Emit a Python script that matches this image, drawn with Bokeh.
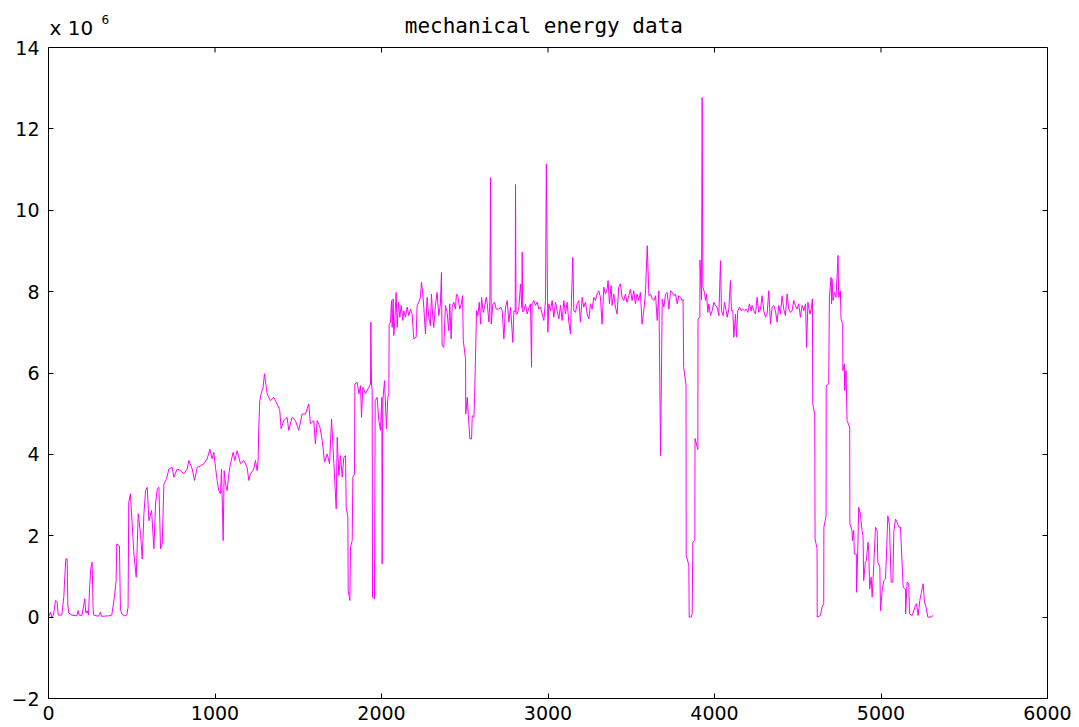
from bokeh.plotting import figure
from bokeh.models import Range1d, FixedTicker, LinearAxis, Span
from bokeh.core.properties import value
from bokeh.embed import file_html
from bokeh.resources import INLINE

# sample index (x) and mechanical energy in units of 1e6 (y)
sample_index = [
    0, 12, 20, 30, 42, 52, 58, 80, 92, 98, 104, 112, 116, 122, 140, 170, 178, 184, 200, 212,
    218, 224, 232, 240, 248, 254, 262, 268, 272, 300, 312, 318, 360, 380, 396, 406, 410, 426, 432, 440,
    455, 470, 478,
    482, 492, 513, 527, 539, 553, 563, 573, 583, 593, 603, 619, 633, 643, 653, 663, 673, 683, 693, 709,
    723, 743, 753, 773, 793, 813, 833, 843, 863, 877, 893, 913, 933, 953, 969, 983, 993, 1003, 1013, 1023,
    1033, 1039, 1049, 1055, 1063, 1073, 1083, 1093, 1109, 1119, 1133, 1153, 1173, 1193, 1203, 1213, 1233, 1243,
    1253, 1259, 1263, 1269, 1277, 1289, 1297, 1313, 1333, 1353, 1373, 1389, 1397, 1413, 1433, 1443, 1463, 1483,
    1503, 1523, 1543, 1563, 1573, 1593, 1603,
    1614, 1630, 1644, 1658, 1674, 1688, 1700, 1714, 1728, 1734, 1744, 1754, 1764, 1774, 1784, 1788, 1798, 1800,
    1810, 1814, 1824, 1828, 1838, 1840, 1854, 1864, 1874, 1880, 1888, 1904, 1924, 1934, 1936, 1940, 1944, 1946,
    1958, 1962, 1974, 1984, 1994, 2002, 2004, 2008, 2018, 2024, 2030, 2038, 2044,
    2046, 2054, 2060, 2064, 2070, 2074, 2080, 2088, 2094, 2102, 2110, 2118, 2128, 2134, 2144, 2154, 2164, 2174,
    2184, 2194, 2208, 2214, 2224, 2234, 2240, 2248, 2254, 2264, 2274, 2284, 2294, 2300, 2308, 2314, 2324, 2334,
    2344, 2354, 2360, 2364, 2374, 2384, 2394, 2404, 2410, 2418, 2424, 2434, 2444, 2450, 2458, 2470, 2479, 2487,
    2491, 2505, 2506, 2515, 2521, 2531, 2541, 2545, 2555, 2559, 2571, 2579, 2587, 2595, 2601, 2611, 2619, 2629,
    2635, 2645, 2651, 2655, 2659, 2669, 2679, 2689, 2705, 2715, 2725, 2735, 2745, 2755, 2765,
    2775, 2789, 2795, 2803, 2805, 2808, 2815, 2825, 2835, 2843, 2845, 2848, 2855, 2865, 2875, 2885, 2895, 2901,
    2904,
    2915, 2925, 2935, 2945, 2955, 2965, 2975, 2985, 2990, 2999, 3005, 3015, 3025, 3035, 3045, 3055, 3065, 3075,
    3085, 3095, 3105, 3115, 3125, 3135, 3139, 3149, 3155, 3165, 3175, 3185, 3195, 3205, 3215, 3225, 3235, 3245,
    3255, 3265, 3275, 3285, 3295, 3305, 3315, 3325, 3335, 3345, 3355, 3361, 3369, 3379, 3385, 3395, 3405, 3415,
    3425, 3435, 3445, 3455, 3465, 3475, 3485, 3495, 3505, 3515, 3525, 3535, 3545, 3555, 3565, 3575, 3585, 3596,
    3606, 3616, 3626, 3636, 3646, 3656, 3666, 3676, 3686, 3696, 3706, 3716, 3726, 3736, 3746, 3756, 3766, 3776,
    3786, 3796, 3806, 3811,
    3815, 3829, 3830, 3846, 3848, 3860, 3866, 3870, 3882, 3883, 3900, 3901, 3912, 3913, 3922, 3926,
    3930, 3940, 3946, 3952, 3960, 3966, 3976, 3986, 3996, 4006, 4016, 4026, 4036, 4042, 4052, 4060, 4070, 4076,
    4086, 4096, 4102, 4110, 4116, 4126, 4132, 4140, 4150, 4160, 4170, 4180, 4190, 4200, 4210, 4220, 4226, 4236,
    4246, 4256, 4266, 4276, 4286, 4296, 4306, 4316, 4326, 4336, 4346, 4356, 4366, 4376, 4386, 4396, 4406, 4416,
    4426, 4436, 4446, 4456, 4466, 4476, 4486, 4496, 4506, 4516, 4526, 4537, 4547, 4553, 4561, 4573, 4581, 4588,
    4590, 4602, 4604, 4616, 4617, 4636, 4646, 4656, 4657, 4670, 4671, 4686, 4690, 4700, 4703, 4706, 4712, 4720,
    4730, 4742, 4746, 4756, 4760, 4770, 4771, 4780, 4782, 4790, 4796, 4812, 4813, 4826, 4828, 4836, 4840, 4852,
    4853, 4860, 4866, 4876, 4886, 4892, 4896, 4906, 4912, 4922, 4926, 4932, 4941, 4947, 4957, 4967, 4977, 4981,
    4993, 4997, 5007, 5017, 5027, 5033, 5041, 5051, 5061, 5071, 5077, 5087, 5097, 5107, 5117, 5133, 5147, 5148,
    5157, 5167, 5171, 5187, 5197, 5207, 5213, 5223, 5233, 5243, 5253, 5261, 5271, 5281, 5297, 5313,
]

energy_1e6 = [
    0.0, 0.12, 0.0, 0.05, 0.41, 0.38, 0.05, 0.05, 0.5, 1.0, 1.43, 1.43, 0.3, 0.1, 0.05, 0.03, 0.16, 0.05, 0.04, 0.3,
    0.45, 0.1, 0.16, 0.05, 0.8, 1.2, 1.35, 0.2, 0.05, 0.02, 0.12, 0.02, 0.03, 0.05, 0.5, 0.9, 1.8, 1.75, 0.2, 0.08,
    0.03, 0.05, 0.25,
    2.82, 3.03, 1.55, 0.98, 2.54, 2.04, 1.43, 2.54, 3.11, 3.19, 2.37, 2.62, 1.68, 2.78, 3.15, 3.19, 1.68, 1.8, 3.27, 3.4,
    3.64, 3.68, 3.44, 3.64, 3.6, 3.52, 3.64, 3.85, 3.64, 3.36, 3.68, 3.72, 3.77, 3.89, 4.13, 3.89, 4.05, 3.68, 3.36, 3.11,
    3.03, 3.64, 1.88, 3.6, 3.27, 3.11, 3.52, 3.77, 4.05, 3.85, 4.09, 3.77, 3.85, 3.68, 3.36, 3.52, 3.64, 3.85,
    3.6, 3.85, 4.67, 5.32, 5.49, 5.65, 5.98, 5.49, 5.32, 5.4, 5.24, 5.08, 4.63, 4.83, 4.91, 4.59, 4.91, 4.83,
    4.59, 4.99, 4.99, 5.24, 4.75, 4.83, 4.26,
    4.83, 4.67, 4.34, 3.81, 4.01, 3.77, 4.87, 3.77, 2.66, 4.42, 3.48, 3.97, 3.44, 3.93, 3.97, 2.7, 2.46, 0.66,
    0.41, 1.72, 1.88, 3.44, 3.52, 5.73, 5.77, 5.49, 5.69, 4.91, 5.65, 5.49, 5.65, 5.73, 7.25, 5.73, 5.57, 0.49,
    0.45, 5.32, 5.4, 4.83, 4.59, 5.4, 1.31, 5.32, 5.81, 5.24, 4.63, 5.4, 5.5,
    7.2, 7.25, 7.78, 7.12, 7.82, 6.92, 7.29, 7.98, 7.12, 7.74, 7.37, 7.66, 7.29, 7.53, 7.37, 7.62, 7.41, 7.57,
    7.45, 6.84, 6.88, 7.66, 7.74, 7.86, 8.23, 7.94, 7.62, 6.96, 7.86, 7.37, 7.16, 7.94, 7.37, 7.12, 7.66, 7.98,
    7.41, 7.7, 8.47, 6.67, 6.63, 7.66, 7.49, 7.04, 7.7, 6.84, 7.62, 7.74, 7.57, 7.94, 7.9, 7.57, 7.7, 7.9,
    6.8, 6.34, 4.99, 5.4, 4.99, 4.38, 4.38, 4.95, 4.91, 5.4, 7.53, 7.41, 7.74, 7.2, 7.86, 7.49, 7.62, 7.86,
    7.7, 7.25, 7.78, 10.8, 7.2, 7.7, 7.74, 7.57, 7.57, 7.62, 7.53, 6.84, 7.62, 7.78, 7.25,
    7.61, 6.75, 7.53, 7.5, 10.63, 7.45, 7.45, 7.61, 8.19, 7.6, 8.97, 7.5, 7.53, 7.69, 7.45, 7.61, 7.7, 6.14,
    7.7,
    7.78, 7.66, 7.74, 7.57, 7.62, 7.45, 7.29, 7.78, 11.14, 7.0, 7.7, 7.53, 7.78, 7.37, 7.74, 7.53, 7.33, 7.66,
    7.29, 7.78, 7.45, 7.74, 7.25, 6.96, 7.53, 8.84, 7.53, 7.49, 7.7, 7.78, 7.25, 7.86, 7.62, 7.74, 7.45, 7.33,
    7.7, 7.57, 7.86, 7.78, 7.94, 8.02, 7.86, 7.2, 8.11, 7.94, 8.06, 8.27, 7.7, 8.15, 7.66, 7.94, 7.62, 7.45,
    8.11, 8.19, 7.86, 7.78, 7.94, 7.74, 7.9, 8.06, 7.78, 8.02, 7.7, 7.94, 7.78, 7.98, 7.2, 7.53, 7.94, 9.13,
    7.9, 7.94, 7.82, 7.78, 7.9, 7.29, 8.02, 3.97, 7.82, 7.62, 7.94, 7.98, 7.57, 8.02, 7.98, 7.9, 7.94, 7.7,
    7.9, 7.86, 7.78, 7.81,
    6.14, 5.7, 1.53, 1.27, 0.0, 0.0, 0.09, 1.84, 1.89, 4.39, 4.12, 7.33, 7.37, 8.78, 7.8, 12.77,
    8.11, 7.98, 7.78, 7.94, 7.49, 7.7, 7.41, 7.53, 7.74, 7.66, 7.62, 7.41, 8.76, 7.53, 7.41, 7.74, 7.53, 7.37,
    7.57, 8.27, 7.53, 7.53, 6.88, 7.45, 6.88, 7.53, 7.62, 7.53, 7.57, 7.53, 7.57, 7.49, 7.7, 7.53, 7.66, 7.53,
    7.45, 7.86, 7.49, 7.57, 7.9, 7.53, 7.37, 7.45, 8.02, 7.2, 7.62, 7.66, 7.53, 7.25, 7.66, 7.45, 7.9, 7.57,
    7.41, 7.94, 7.57, 7.49, 7.53, 7.78, 7.66, 7.57, 7.7, 7.37, 7.66, 7.53, 7.7, 6.63, 7.74, 7.45, 7.57, 7.82,
    5.24, 4.99, 1.92, 1.68, 0.0, 0.04, 0.24, 0.33, 2.21, 2.49, 5.69, 5.73, 7.86, 8.35, 7.7, 8.31, 7.78, 7.98,
    7.86, 8.89, 7.86, 8.02, 7.33, 7.21, 6.06, 6.22, 5.57, 6.06, 4.83, 4.67, 2.29, 2.13, 1.88, 2.13, 1.55, 1.55,
    0.61, 1.55, 2.7, 2.54, 2.13, 2.0, 0.9, 1.35, 1.39, 1.84, 1.64, 0.69, 0.98, 0.49, 1.31, 2.21, 2.13, 1.35,
    1.23, 0.16, 0.65, 0.9, 0.94, 1.55, 2.49, 2.25, 0.86, 0.86, 2.09, 2.41, 2.33, 2.21, 2.21, 0.73, 0.69, 0.08,
    0.86, 0.82, 0.08, 0.04, 0.16, 0.29, 0.33, 0.04, 0.41, 0.61, 0.82, 0.37, 0.24, 0.0, 0.0, 0.04,
]

x_ticks = [0, 1000, 2000, 3000, 4000, 5000, 6000]
y_ticks = [-2, 0, 2, 4, 6, 8, 10, 12, 14]
y_tick_labels = {-2: "\u22122", 0: "0", 2: "2", 4: "4", 6: "6", 8: "8", 10: "10", 12: "12", 14: "14"}
title_text = "mechanical energy data"
exponent_base = "x 10"
exponent_power = "6"

Y_MIN, Y_MAX = -2, 14
PX_PER_UNIT = 651 / 16.0          # vertical scale of the axes box
TOP_MARGIN_PX = 47                # space above the box used for title and exponent
Y_TOP = Y_MAX + TOP_MARGIN_PX / PX_PER_UNIT

TICK_FONT = "DejaVu Sans"

p = figure(width=1079, height=727, output_backend="svg", toolbar_location=None,
           x_range=Range1d(0, 6000), y_range=Range1d(Y_MIN, Y_TOP),
           min_border_left=48, min_border_right=32, min_border_top=0, min_border_bottom=29,
           title=None)

p.background_fill_color = "white"
p.border_fill_color = "white"
p.outline_line_color = None
p.xgrid.visible = False
p.ygrid.visible = False

def style_axis(ax, ticks, labels=True):
    ax.ticker = FixedTicker(ticks=ticks)
    ax.axis_line_color = "black"
    ax.axis_line_width = 1
    ax.major_tick_in = 5
    ax.major_tick_out = 0
    ax.major_tick_line_color = "black"
    ax.minor_tick_line_color = None
    ax.major_label_text_font = TICK_FONT
    if labels:
        ax.major_label_text_font_size = "19px"
        ax.major_label_text_color = "black"
    else:
        ax.major_label_text_font_size = "8px"
        ax.major_label_text_color = None
        ax.major_label_standoff = 0

style_axis(p.xaxis[0], x_ticks)
p.xaxis[0].major_label_standoff = 7
style_axis(p.yaxis[0], y_ticks)
p.yaxis[0].major_label_standoff = 9
p.yaxis[0].major_label_overrides = y_tick_labels
p.yaxis[0].bounds = (Y_MIN, Y_MAX)

right_axis = LinearAxis(bounds=(Y_MIN, Y_MAX))
style_axis(right_axis, y_ticks, labels=False)
p.add_layout(right_axis, "right")

# top edge of the axes box and its inward ticks
p.add_layout(Span(location=Y_MAX, dimension="width", line_color="black", line_width=1))
tick_len = 5 / PX_PER_UNIT
p.segment(x0=x_ticks, y0=[Y_MAX] * len(x_ticks), x1=x_ticks,
          y1=[Y_MAX - tick_len] * len(x_ticks), line_color="black", line_width=1)

p.line(sample_index, energy_1e6, line_color="#ff00ff", line_width=1)

# title and exponent marker, placed above the box
p.text(x=[2975], y=[Y_MAX + 22 / PX_PER_UNIT], text=[title_text],
       text_font=value("DejaVu Sans Mono"), text_font_size="21px", text_color="black",
       text_align="center", text_baseline="alphabetic")
p.text(x=[6], y=[Y_MAX + 20 / PX_PER_UNIT], text=[exponent_base],
       text_font=value(TICK_FONT), text_font_size="20px", text_color="black",
       text_align="left", text_baseline="alphabetic")
p.text(x=[318], y=[Y_MAX + 28 / PX_PER_UNIT], text=[exponent_power],
       text_font=value(TICK_FONT), text_font_size="12px", text_color="black",
       text_align="left", text_baseline="alphabetic")

open("out.html", "w").write(file_html(p, INLINE))
